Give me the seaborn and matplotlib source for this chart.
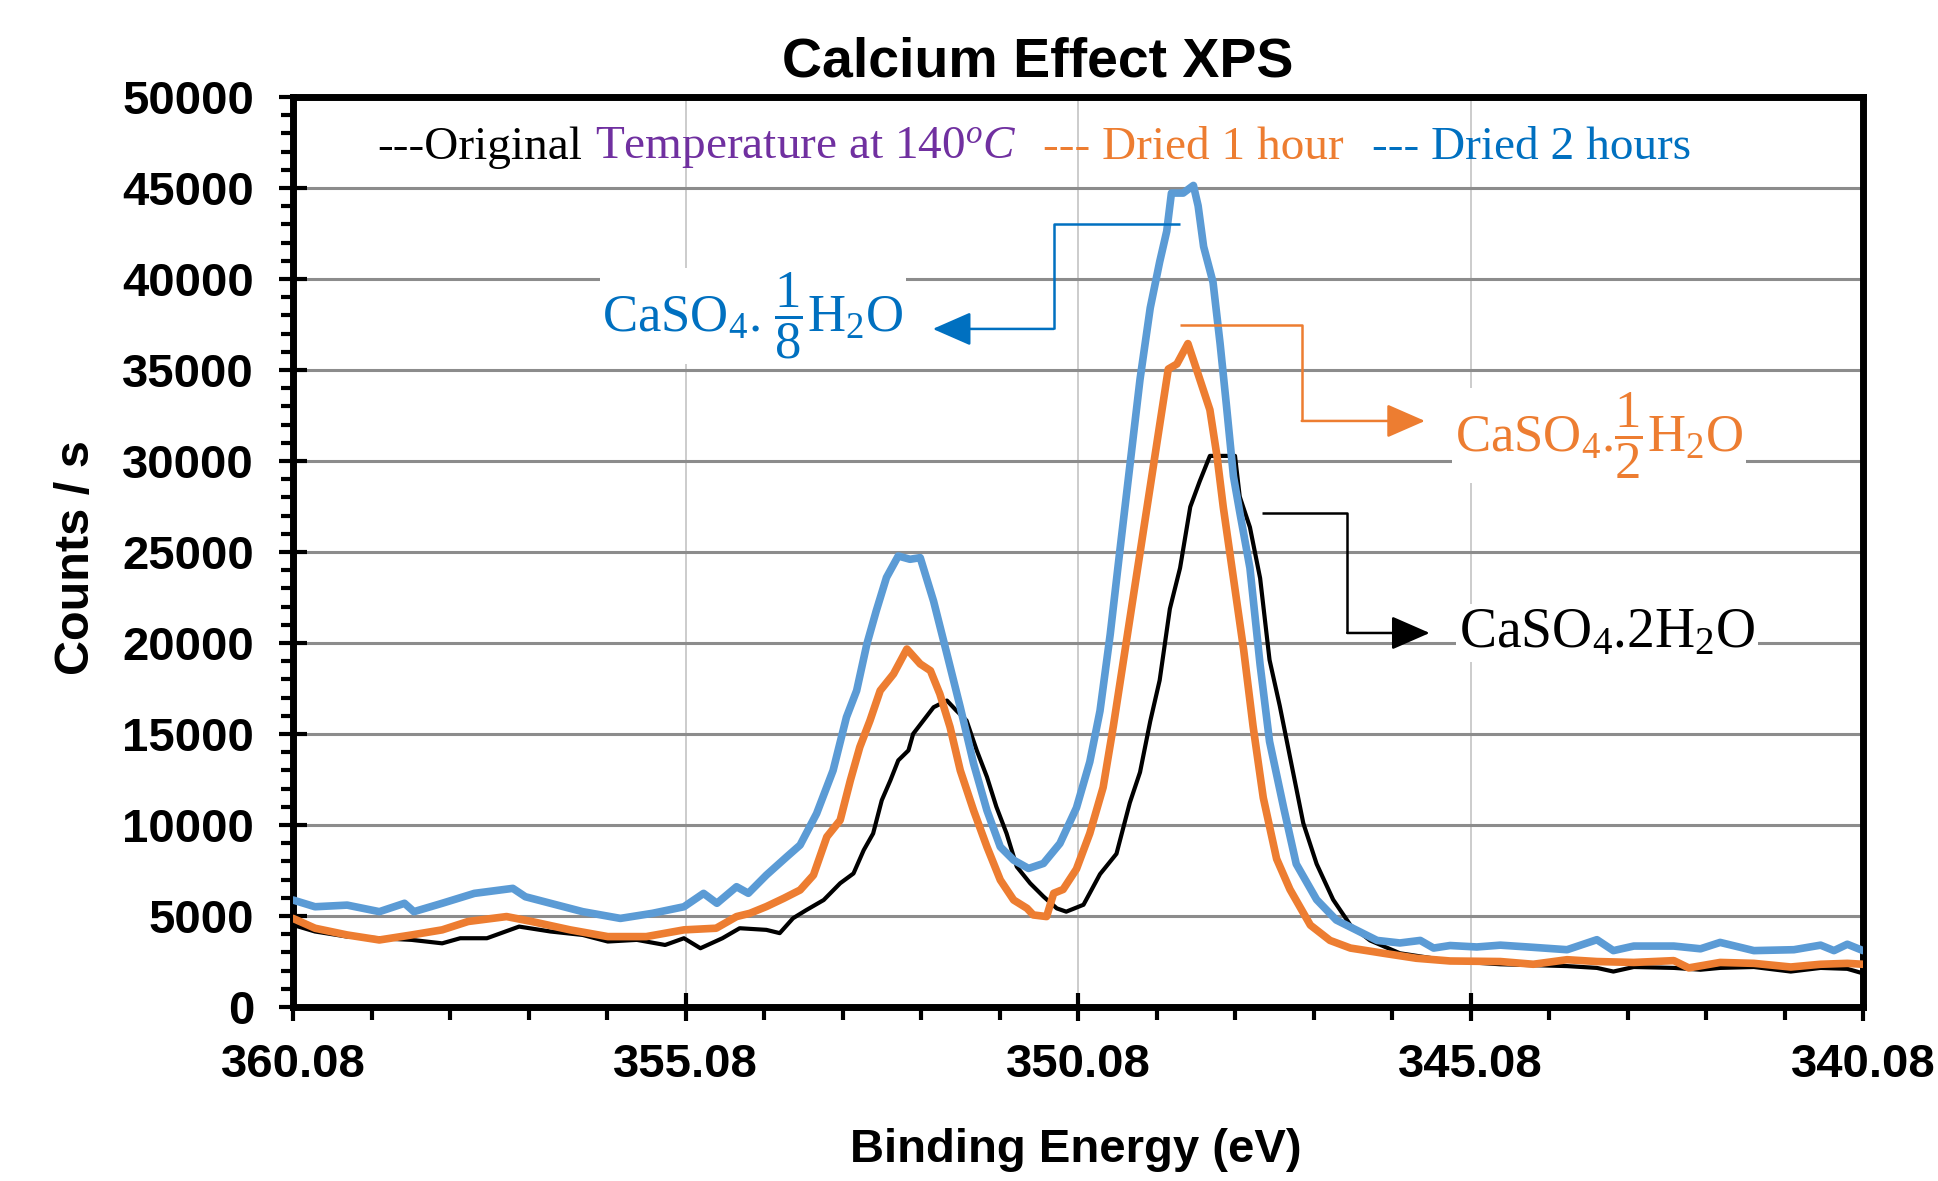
import numpy as np
import pandas as pd
import matplotlib
matplotlib.use("Agg")
import matplotlib.pyplot as plt
from matplotlib.ticker import MultipleLocator
import seaborn as sns

# ---------------- data ----------------
e_orig = [360.08, 359.80, 359.39, 358.98, 358.57, 358.18, 357.95, 357.61, 357.20, 356.80,
          356.39, 356.07, 355.70, 355.34, 355.10, 354.89, 354.61, 354.39, 354.05, 353.88,
          353.71, 353.54, 353.32, 353.11, 352.94, 352.81, 352.69, 352.58, 352.47, 352.37,
          352.24, 352.18, 352.05, 351.92, 351.75, 351.63, 351.50, 351.37, 351.24, 351.12,
          350.99, 350.86, 350.69, 350.52, 350.35, 350.23, 350.01, 349.80, 349.59, 349.42,
          349.29, 349.16, 349.04, 348.91, 348.78, 348.65, 348.53, 348.40, 348.23, 348.08,
          348.02, 347.89, 347.76, 347.64, 347.51, 347.38, 347.21, 347.04, 346.83, 346.61,
          346.36, 345.98, 345.34, 344.70, 344.28, 343.85, 343.47, 343.26, 343.00, 342.49,
          342.15, 341.90, 341.47, 341.00, 340.62, 340.28, 340.08]
c_orig = [4510, 4150, 3870, 3780, 3690, 3500, 3780, 3780, 4420, 4150,
          3960, 3600, 3690, 3410, 3780, 3230, 3780, 4330, 4240, 4060,
          4880, 5330, 5880, 6800, 7340, 8620, 9535, 11360, 12455, 13550,
          14100, 15010, 15740, 16470, 16840, 16290, 15740, 14100, 12640, 11000,
          9535, 7710, 6800, 6070, 5420, 5240, 5620, 7300, 8420, 11225,
          12900, 15700, 17950, 21875, 24120, 27480, 28880, 30280, 30280, 30280,
          28040, 26360, 23560, 19070, 16550, 13750, 10100, 7860, 5900, 4500,
          3660, 2955, 2530, 2350, 2300, 2250, 2150, 1950, 2200, 2150,
          2050, 2150, 2200, 1950, 2150, 2100, 1850]

e_1h = [360.08, 359.80, 359.39, 358.98, 358.57, 358.18, 357.85, 357.36, 357.04, 356.55,
        356.07, 355.58, 355.10, 354.69, 354.43, 354.26, 354.05, 353.83, 353.62, 353.45,
        353.28, 353.11, 352.98, 352.86, 352.73, 352.60, 352.43, 352.26, 352.09, 351.96,
        351.84, 351.71, 351.58, 351.41, 351.24, 351.07, 350.90, 350.73, 350.65, 350.48,
        350.39, 350.27, 350.10, 349.93, 349.76, 349.63, 349.50, 349.38, 349.25, 349.16,
        349.04, 348.93, 348.82, 348.68, 348.55, 348.40, 348.31, 348.23, 348.10, 347.97,
        347.85, 347.72, 347.55, 347.38, 347.12, 346.87, 346.61, 346.19, 345.77, 345.34,
        344.70, 344.28, 343.85, 343.47, 343.00, 342.49, 342.30, 341.90, 341.47, 341.00,
        340.62, 340.28, 340.08]
c_1h = [4870, 4330, 3960, 3685, 3960, 4240, 4700, 4970, 4700, 4240,
        3870, 3870, 4240, 4330, 4970, 5150, 5520, 5970, 6430, 7250,
        9350, 10265, 12455, 14280, 15740, 17385, 18300, 19670, 18850, 18480,
        17200, 15380, 13000, 10800, 8800, 6980, 5880, 5425, 5060, 4970,
        6250, 6460, 7580, 9540, 12070, 15430, 19070, 22440, 26080, 28600,
        31970, 35050, 35330, 36450, 34770, 32810, 30280, 27480, 23560, 19630,
        15430, 11500, 8140, 6460, 4500, 3660, 3240, 2955, 2680, 2530,
        2500, 2350, 2600, 2500, 2450, 2550, 2150, 2450, 2400, 2200,
        2350, 2400, 2350]

e_2h = [360.08, 359.80, 359.39, 358.98, 358.66, 358.54, 358.18, 357.77, 357.28, 357.12,
        356.80, 356.39, 355.91, 355.50, 355.10, 354.85, 354.68, 354.43, 354.28, 354.05,
        353.79, 353.62, 353.41, 353.20, 353.03, 352.90, 352.77, 352.65, 352.52, 352.37,
        352.22, 352.09, 351.92, 351.75, 351.58, 351.41, 351.24, 351.07, 350.90, 350.71,
        350.52, 350.31, 350.10, 349.93, 349.80, 349.67, 349.55, 349.42, 349.29, 349.16,
        349.04, 348.95, 348.89, 348.74, 348.61, 348.55, 348.48, 348.36, 348.27, 348.19,
        348.10, 348.02, 347.89, 347.76, 347.64, 347.46, 347.30, 347.04, 346.79, 346.53,
        346.27, 345.98, 345.72, 345.55, 345.34, 345.00, 344.70, 344.28, 343.85, 343.47,
        343.26, 343.00, 342.49, 342.15, 341.90, 341.47, 340.96, 340.62, 340.45, 340.28,
        340.08]
c_2h = [5880, 5510, 5600, 5240, 5700, 5240, 5700, 6245, 6520, 6060,
        5700, 5240, 4870, 5150, 5510, 6245, 5700, 6610, 6250, 7250,
        8255, 8900, 10630, 13000, 15925, 17385, 19940, 21770, 23600, 24780,
        24600, 24690, 22300, 19400, 16470, 13370, 10800, 8800, 8070, 7615,
        7890, 8990, 10945, 13470, 16270, 20470, 24960, 29720, 34490, 38410,
        40935, 42620, 44720, 44720, 45140, 44020, 41780, 39820, 36450, 33090,
        29160, 27200, 24120, 18790, 14590, 10945, 7860, 5900, 4780, 4220,
        3660, 3520, 3660, 3240, 3380, 3300, 3400, 3280, 3150, 3700,
        3100, 3350, 3350, 3200, 3550, 3100, 3150, 3400, 3100, 3450,
        3100]

series_names = ["Original", "Dried 1 hour", "Dried 2 hours"]
x_tick_values = [360.08, 355.08, 350.08, 345.08, 340.08]
x_tick_labels = ["360.08", "355.08", "350.08", "345.08", "340.08"]

# ---------------- style ----------------
sns.set_style("white")
plt.rcParams["font.family"] = ["Liberation Sans", "DejaVu Sans"]
plt.rcParams["text.color"] = "black"
plt.rcParams["axes.labelcolor"] = "black"
plt.rcParams["xtick.color"] = "black"
plt.rcParams["ytick.color"] = "black"
plt.rcParams["mathtext.fontset"] = "custom"
plt.rcParams["mathtext.rm"] = "Liberation Serif"
plt.rcParams["mathtext.it"] = "Liberation Serif:italic"
plt.rcParams["mathtext.bf"] = "Liberation Serif:bold"

C_BLACK = "#000000"
C_ORANGE = "#ED7D31"
C_BLUE = "#5B9BD5"
C_BLUE_TXT = "#0070C0"
C_PURPLE = "#7030A0"

fig = plt.figure(figsize=(19.38, 11.81), dpi=100)
ax = fig.add_axes([0.1512, 0.1473, 0.9613 - 0.1512, 0.9179 - 0.1473])

df = pd.concat([
    pd.DataFrame({"E": e_orig, "C": c_orig, "s": series_names[0]}),
    pd.DataFrame({"E": e_1h, "C": c_1h, "s": series_names[1]}),
    pd.DataFrame({"E": e_2h, "C": c_2h, "s": series_names[2]}),
])

widths = {series_names[0]: 3.0, series_names[1]: 5.5, series_names[2]: 5.5}
colors = {series_names[0]: C_BLACK, series_names[1]: C_ORANGE, series_names[2]: C_BLUE}
for name in series_names:
    sns.lineplot(data=df[df["s"] == name], x="E", y="C", color=colors[name],
                 lw=widths[name], ax=ax, legend=False, zorder=3,
                 solid_joinstyle="round", solid_capstyle="round")

ax.set_xlim(360.08, 340.08)
ax.set_ylim(0, 50000)
ax.set_xticks(x_tick_values, x_tick_labels)
ax.xaxis.set_minor_locator(MultipleLocator(1, offset=0.08))
ax.yaxis.set_major_locator(MultipleLocator(5000))
ax.yaxis.set_minor_locator(MultipleLocator(1000))

ax.set_axisbelow(True)
ax.yaxis.grid(True, which="major", color="#8c8c8c", lw=2.2)
ax.xaxis.grid(True, which="major", color="#c8c8c8", lw=1.3)
ax.xaxis.grid(False, which="minor")
ax.yaxis.grid(False, which="minor")

for sp in ax.spines.values():
    sp.set_visible(True)
    sp.set_color("black")
    sp.set_linewidth(5)

ax.tick_params(axis="both", which="both", bottom=True, left=True, top=False, right=False)
ax.tick_params(axis="both", which="major", direction="inout", length=20, width=3,
               color="black", labelsize=34, labelcolor="black")
ax.tick_params(axis="x", which="major", pad=16)
ax.tick_params(axis="y", which="major", pad=18)
ax.tick_params(axis="both", which="minor", direction="out", length=9, width=3, color="black")
for lab in ax.get_xticklabels() + ax.get_yticklabels():
    lab.set_fontweight("bold")

ax.set_xlabel("Binding Energy (eV)", fontsize=34, fontweight="bold", color="black")
ax.set_ylabel("Counts / s", fontsize=35, fontweight="bold", color="black")
ax.xaxis.label.set_va("center")
ax.yaxis.label.set_va("center")
ax.xaxis.set_label_coords(0.4984, -0.157)
ax.yaxis.set_label_coords(-0.1376, 0.494)

ax.text(0.4745, 1.038, "Calcium Effect XPS", transform=ax.transAxes, ha="center",
        va="center", fontsize=40, fontweight="bold", color="black")

# --------------- header "legend" text ---------------
serif = ["Liberation Serif", "DejaVu Serif"]
hdr = [(0.0535, "---Original", C_BLACK),
       (0.1924, r"Temperature at 140$^{o}C$", C_PURPLE),
       (0.4777, "--- Dried 1 hour", C_ORANGE),
       (0.6873, "--- Dried 2 hours", C_BLUE_TXT)]
for xa, s, col in hdr:
    ax.text(xa, 0.944, s, transform=ax.transAxes, ha="left", va="center",
            fontsize=34, color=col, family=serif)

# --------------- phase annotations ---------------
box = dict(facecolor="white", edgecolor="none", pad=2)
ann_lw = 1.8
arrow = dict(arrowstyle="-|>,head_length=0.8,head_width=0.35", mutation_scale=30,
             lw=ann_lw, shrinkA=0, shrinkB=0)

# blue: CaSO4 . 1/8 H2O
ax.plot([348.78, 350.39, 350.39], [43025, 43025, 37256], color=C_BLUE_TXT, lw=ann_lw,
        zorder=4, solid_capstyle="butt")
ax.annotate("", xy=(351.93, 37256), xytext=(350.39, 37256),
            arrowprops=dict(arrow, color=C_BLUE_TXT), zorder=4)
ax.text(354.22, 37970, r"CaSO$_4$. $\dfrac{1}{8}$H$_2$O", ha="center", va="center",
        fontsize=38, color=C_BLUE_TXT, family=serif, bbox=box, zorder=5)

# orange: CaSO4 . 1/2 H2O
ax.plot([348.78, 347.23, 347.23], [37476, 37476, 32200], color=C_ORANGE, lw=ann_lw,
        zorder=4, solid_capstyle="butt")
ax.annotate("", xy=(345.66, 32200), xytext=(347.23, 32200),
            arrowprops=dict(arrow, color=C_ORANGE), zorder=4)
ax.text(343.44, 31400, r"CaSO$_4$.$\dfrac{1}{2}$H$_2$O", ha="center", va="center",
        fontsize=38, color=C_ORANGE, family=serif, bbox=box, zorder=5)

# black: CaSO4 . 2H2O
ax.plot([347.74, 346.65, 346.65], [27145, 27145, 20551], color=C_BLACK, lw=ann_lw,
        zorder=4, solid_capstyle="butt")
ax.annotate("", xy=(345.60, 20551), xytext=(346.65, 20551),
            arrowprops=dict(arrow, color=C_BLACK), zorder=4)
ax.text(343.34, 20550, r"CaSO$_4$.2H$_2$O", ha="center", va="center",
        fontsize=40, color=C_BLACK, family=serif, bbox=box, zorder=5)

fig.savefig("out.png", dpi=100, facecolor="white")
